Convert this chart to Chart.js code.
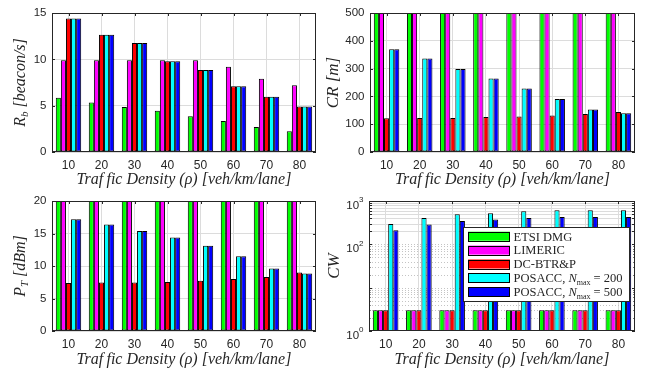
<!DOCTYPE html>
<html>
<head>
<meta charset="utf-8">
<script src="https://cdn.jsdelivr.net/npm/chart.js@4.4.1/dist/chart.umd.min.js"></script>
<style>
  html, body { margin: 0; padding: 0; background: #ffffff; }
  #fig { position: relative; width: 645px; height: 371px; overflow: hidden; background: #ffffff; }
  #fig canvas { position: absolute; left: 0; top: 0; }
</style>
</head>
<body>
<div id="fig"></div>
<script>
// Traffic densities on the x axis of every panel
const densities = ['10', '20', '30', '40', '50', '60', '70', '80'];

// Schemes compared (legend order)
const schemeNames = ['ETSI DMG', 'LIMERIC', 'DC-BTR&P', 'POSACC, N_max = 200', 'POSACC, N_max = 500'];
const schemeColors = ['#00ff00', '#ff00ff', '#ff0000', '#00ffff', '#0000ff'];

// Beacon rate R_b [beacon/s]
const rbEtsi      = [5.85, 5.35, 4.85, 4.45, 3.85, 3.35, 2.7, 2.25];
const rbLimeric   = [9.9, 9.9, 9.9, 9.9, 9.9, 9.2, 7.9, 7.2];
const rbDcBtrp    = [14.4, 12.65, 11.75, 9.8, 8.85, 7.1, 5.95, 4.9];
const rbPosacc200 = [14.4, 12.65, 11.75, 9.8, 8.85, 7.1, 5.95, 4.9];
const rbPosacc500 = [14.4, 12.65, 11.75, 9.8, 8.85, 7.1, 5.95, 4.9];

// Communication range CR [m]
const crEtsi      = [500, 500, 500, 500, 500, 500, 500, 500];
const crLimeric   = [500, 500, 500, 500, 500, 500, 500, 500];
const crDcBtrp    = [121, 122, 122, 126, 128, 131, 137, 144];
const crPosacc200 = [370, 336, 299, 264, 228, 191, 153, 139];
const crPosacc500 = [370, 336, 299, 264, 228, 191, 153, 139];

// Transmit power P_T [dBm]
const ptEtsi      = [20, 20, 20, 20, 20, 20, 20, 20];
const ptLimeric   = [20, 20, 20, 20, 20, 20, 20, 20];
const ptDcBtrp    = [7.4, 7.45, 7.45, 7.55, 7.75, 8.0, 8.3, 9.0];
const ptPosacc200 = [17.2, 16.4, 15.4, 14.4, 13.1, 11.5, 9.6, 8.85];
const ptPosacc500 = [17.2, 16.4, 15.4, 14.4, 13.1, 11.5, 9.6, 8.85];

// Contention window CW
const cwEtsi      = [3, 3, 3, 3, 3, 3, 3, 3];
const cwLimeric   = [3, 3, 3, 3, 3, 3, 3, 3];
const cwDcBtrp    = [3, 3, 3, 3, 3, 3, 3, 3];
const cwPosacc200 = [296, 407, 494, 521, 579, 611, 611, 611];
const cwPosacc500 = [212, 285, 347, 372, 407, 429, 429, 429];

// Labelled decades of the CW axis
const cwTickExponents = [0, 2, 3];

const W = 645, H = 371;
const SANS = '"Liberation Sans", Arial, Helvetica, sans-serif';
const SERIF = '"Liberation Serif", "Times New Roman", serif';
const INK = '#262626';
const GRID = '#dcdcdc';
const MINOR = '#c4c4c4';
const Y_AXIS_W = 40, X_AXIS_H = 28;

// grid values of the log axis: 1..9, 10..90, 100..900, 1000
const logLines = [];
[1, 10, 100].forEach(d => { for (let m = 1; m <= 9; m++) logLines.push(m * d); });
logLines.push(1000);

const fig = document.getElementById('fig');

function richWidth(ctx, parts) {
  let w = 0;
  for (const p of parts) { ctx.font = p.font; w += ctx.measureText(p.t).width; }
  return w;
}
function drawRich(ctx, parts, x, y, align) {
  const w = richWidth(ctx, parts);
  let cx = align === 'center' ? x - w / 2 : (align === 'right' ? x - w : x);
  ctx.textAlign = 'left';
  ctx.textBaseline = 'alphabetic';
  for (const p of parts) {
    ctx.font = p.font;
    ctx.fillText(p.t, cx, y + (p.dy || 0));
    cx += ctx.measureText(p.t).width;
  }
}
const it = size => `italic ${size}px ${SERIF}`;
const rm = size => `${size}px ${SERIF}`;

const xTitleParts = [{ t: 'Traf\u2009fic Density (\u03C1) [veh/km/lane]', font: it(16) }];

const legendParts = [
  [{ t: 'ETSI DMG', font: rm(12.5) }],
  [{ t: 'LIMERIC', font: rm(12.5) }],
  [{ t: 'DC-BTR&P', font: rm(12.5) }],
  [{ t: 'POSACC, ', font: rm(12.5) }, { t: 'N', font: it(12.5) }, { t: 'max', font: rm(8), dy: 2.5 }, { t: ' = 200', font: rm(12.5) }],
  [{ t: 'POSACC, ', font: rm(12.5) }, { t: 'N', font: it(12.5) }, { t: 'max', font: rm(8), dy: 2.5 }, { t: ' = 500', font: rm(12.5) }]
];

// Frame, inward ticks, axis titles, log grid and the legend
const panelDecor = {
  id: 'panelDecor',
  beforeDatasetsDraw(chart, args, o) {
    const { ctx, chartArea: a, scales: { x, y } } = chart;
    ctx.save();
    ctx.lineWidth = 1;
    if (o.log) {
      for (const v of logLines) {
        if (v <= 1 || v >= 1000) continue;
        const py = Math.round(y.getPixelForValue(v)) + 0.5;
        ctx.strokeStyle = v >= 200 ? GRID : MINOR;
        ctx.setLineDash(v >= 200 ? [] : [1, 2]);
        ctx.beginPath(); ctx.moveTo(a.left, py); ctx.lineTo(a.right, py); ctx.stroke();
      }
      ctx.setLineDash([]);
    }
    ctx.strokeStyle = INK;
    ctx.beginPath();
    densities.forEach((_, i) => {
      const px = Math.round(x.getPixelForValue(i)) + 0.5;
      ctx.moveTo(px, a.bottom); ctx.lineTo(px, a.bottom - 3);
      ctx.moveTo(px, a.top); ctx.lineTo(px, a.top + 3);
    });
    const yVals = o.log ? logLines : y.ticks.map(t => t.value);
    yVals.forEach(v => {
      const len = (!o.log || v === 1 || v === 10 || v >= 100) ? 3 : 1.5;
      const py = Math.round(y.getPixelForValue(v)) + 0.5;
      ctx.moveTo(a.left, py); ctx.lineTo(a.left + len, py);
      ctx.moveTo(a.right, py); ctx.lineTo(a.right - len, py);
    });
    ctx.stroke();
    ctx.restore();
  },
  afterDraw(chart, args, o) {
    const { ctx, chartArea: a, scales: { y } } = chart;
    ctx.save();
    // axes box
    ctx.strokeStyle = INK;
    ctx.lineWidth = 1;
    const l = Math.round(a.left) + 0.5, t = Math.round(a.top) + 0.5;
    const r = Math.round(a.right) - 0.5, b = Math.round(a.bottom) - 0.5;
    ctx.strokeRect(l, t, r - l, b - t);

    ctx.fillStyle = INK;
    // log axis labels 10^n
    if (o.log) {
      cwTickExponents.forEach(e => {
        const py = y.getPixelForValue(Math.pow(10, e));
        ctx.textBaseline = 'middle';
        ctx.textAlign = 'right';
        ctx.font = `8px ${SANS}`;
        const expW = ctx.measureText(String(e)).width;
        ctx.fillText(String(e), a.left - 5.5, py - 1);
        ctx.font = `11.5px ${SANS}`;
        ctx.fillText('10', a.left - 5.5 - expW, py + 4.5);
      });
    }
    // x title
    ctx.fillStyle = INK;
    drawRich(ctx, xTitleParts, (a.left + a.right) / 2, a.bottom + o.xTitleGap, 'center');
    // y title (rotated)
    ctx.translate(o.yTitleX, (a.top + a.bottom) / 2);
    ctx.rotate(-Math.PI / 2);
    drawRich(ctx, o.yTitle, 0, 0, 'center');
    ctx.setTransform(1, 0, 0, 1, 0, 0);

    // legend
    if (o.legend) {
      const lx = 463.5, ly = 227.5, lw = 166, lh = 74;
      ctx.fillStyle = '#ffffff';
      ctx.fillRect(lx, ly, lw, lh);
      ctx.strokeStyle = INK;
      ctx.strokeRect(lx, ly, lw, lh);
      const pitch = 13.9;
      legendParts.forEach((parts, i) => {
        const cy = 236.2 + i * pitch;
        ctx.fillStyle = schemeColors[i];
        ctx.fillRect(468, cy - 4.5, 42, 9);
        ctx.strokeStyle = '#000000';
        ctx.strokeRect(468.5, Math.round(cy - 4.5) + 0.5, 41, 9);
        ctx.fillStyle = INK;
        drawRich(ctx, parts, 513.5, cy + 4.3, 'left');
      });
    }
    ctx.restore();
  }
};

function makePanel(p) {
  const cv = document.createElement('canvas');
  cv.width = W; cv.height = H;
  cv.style.width = W + 'px'; cv.style.height = H + 'px';
  fig.appendChild(cv);
  const isLog = p.type === 'logarithmic';
  return new Chart(cv, {
    type: 'bar',
    data: {
      labels: densities,
      datasets: p.series.map((d, i) => ({
        label: schemeNames[i],
        data: d,
        backgroundColor: schemeColors[i],
        borderColor: '#000000',
        borderWidth: 1,
        borderSkipped: false,
        clip: 0
      }))
    },
    options: {
      responsive: false,
      animation: false,
      devicePixelRatio: 1,
      events: [],
      layout: {
        padding: {
          left: p.area.left - Y_AXIS_W,
          top: p.area.top,
          right: W - p.area.right,
          bottom: H - p.area.bottom - X_AXIS_H
        }
      },
      datasets: { bar: { categoryPercentage: 0.77, barPercentage: 1.0 } },
      plugins: {
        legend: { display: false },
        tooltip: { enabled: false },
        title: { display: false },
        panelDecor: {
          log: isLog,
          legend: !!p.legend,
          yTitle: p.yTitle,
          yTitleX: p.yTitleX,
          xTitleGap: p.xTitleGap
        }
      },
      scales: {
        x: {
          type: 'category',
          offset: true,
          grid: { offset: false, color: GRID, lineWidth: 1, drawTicks: false },
          border: { display: false },
          ticks: { padding: 6, color: INK, font: { family: SANS, size: 12 }, maxRotation: 0, autoSkip: false },
          afterFit(s) { s.height = X_AXIS_H; }
        },
        y: {
          type: p.type,
          min: p.min,
          max: p.max,
          grid: { display: !isLog, color: GRID, lineWidth: 1, drawTicks: false },
          border: { display: false },
          ticks: {
            display: !isLog,
            stepSize: p.step,
            padding: 5.5,
            color: INK,
            font: { family: SANS, size: 11.5 }
          },
          afterFit(s) { s.width = Y_AXIS_W; }
        }
      }
    },
    plugins: [panelDecor]
  });
}

makePanel({
  area: { left: 52, top: 13, right: 316, bottom: 152 },
  type: 'linear', min: 0, max: 15, step: 5,
  series: [rbEtsi, rbLimeric, rbDcBtrp, rbPosacc200, rbPosacc500],
  yTitle: [{ t: 'R', font: it(16) }, { t: 'b', font: it(11), dy: 3 }, { t: ' [beacon/s]', font: it(16) }],
  yTitleX: 25, xTitleGap: 32
});
makePanel({
  area: { left: 370, top: 13, right: 635, bottom: 152 },
  type: 'linear', min: 0, max: 500, step: 100,
  series: [crEtsi, crLimeric, crDcBtrp, crPosacc200, crPosacc500],
  yTitle: [{ t: 'CR [m]', font: it(17) }],
  yTitleX: 338, xTitleGap: 32
});
makePanel({
  area: { left: 52, top: 201, right: 316, bottom: 331 },
  type: 'linear', min: 0, max: 20, step: 5,
  series: [ptEtsi, ptLimeric, ptDcBtrp, ptPosacc200, ptPosacc500],
  yTitle: [{ t: 'P', font: it(16) }, { t: 'T', font: it(11), dy: 3 }, { t: ' [dBm]', font: it(16) }],
  yTitleX: 25, xTitleGap: 33
});
makePanel({
  area: { left: 369, top: 201, right: 635, bottom: 331 },
  type: 'logarithmic', min: 1, max: 1000,
  series: [cwEtsi, cwLimeric, cwDcBtrp, cwPosacc200, cwPosacc500],
  yTitle: [{ t: 'CW', font: it(17) }],
  yTitleX: 339, xTitleGap: 33,
  legend: true
});
</script>
</body>
</html>
